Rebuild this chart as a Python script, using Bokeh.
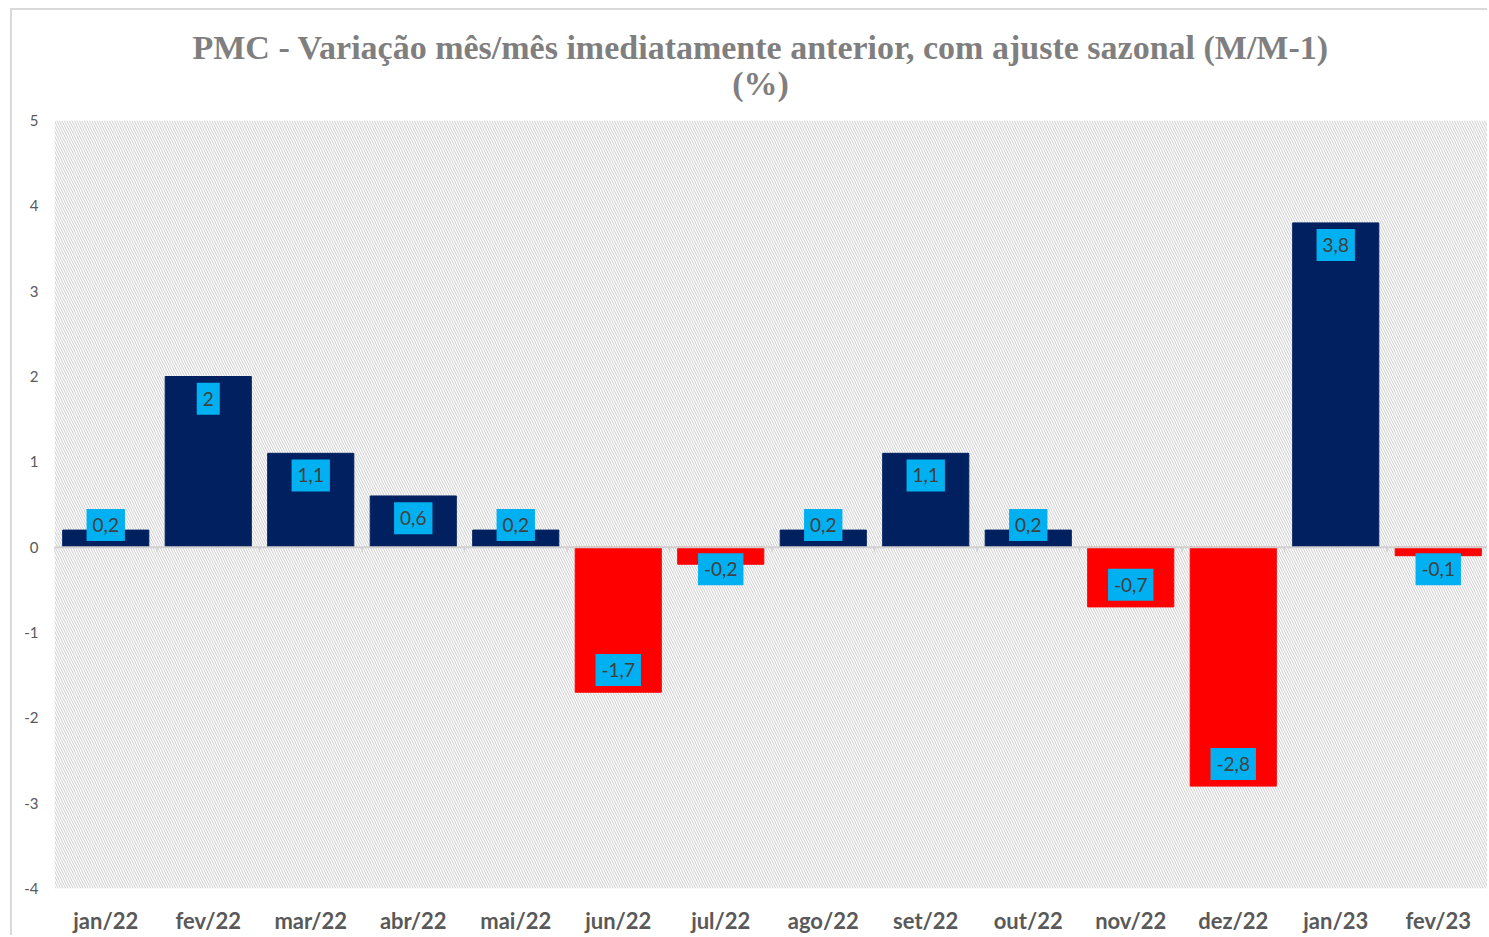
from bokeh.plotting import figure
from bokeh.models import Range1d, FixedTicker, BoxAnnotation, ColumnDataSource, Span
from bokeh.core.properties import value
from bokeh.embed import file_html
from bokeh.resources import INLINE

months = ["jan/22", "fev/22", "mar/22", "abr/22", "mai/22", "jun/22", "jul/22",
          "ago/22", "set/22", "out/22", "nov/22", "dez/22", "jan/23", "fev/23"]
values = [0.2, 2, 1.1, 0.6, 0.2, -1.7, -0.2, 0.2, 1.1, 0.2, -0.7, -2.8, 3.8, -0.1]
y_ticks = [-4, -3, -2, -1, 0, 1, 2, 3, 4, 5]
title_lines = ["PMC - Variação mês/mês imediatamente anterior, com ajuste sazonal (M/M-1)", "(%)"]

POS = "#002060"
NEG = "#ff0000"

xs = list(range(1, len(months) + 1))
colors = [POS if v >= 0 else NEG for v in values]
def fmt(v):
    return ("%g" % v).replace(".", ",")
labels = [fmt(v) for v in values]
off = 0.26
label_y = []
for v in values:
    sgn = 1 if v >= 0 else -1
    label_y.append(v - sgn * off if abs(v) > 0.5 else sgn * off)

src = ColumnDataSource(dict(x=xs, top=values, color=colors, ly=label_y, lab=labels))

p = figure(width=1477, height=927, output_backend="svg", toolbar_location=None,
           x_range=Range1d(0.5, 14.5), y_range=Range1d(-4, 5))
p.min_border_left = 42
p.min_border_right = 0
p.min_border_bottom = 49
p.outline_line_color = None
p.background_fill_color = "white"
p.border_fill_color = "white"

t = p.title
t.text = "\n".join(title_lines)
t.text_font = "Liberation Serif"
t.text_font_size = "34px"
t.text_font_style = "bold"
t.text_color = "#7f7f7f"
t.text_line_height = 0.95
t.align = "left"
t.offset = 138
t.vertical_align = "middle"
t.standoff = 36
if "text_align" in t.properties():
    t.text_align = "center"

hatch = BoxAnnotation(fill_color="white", fill_alpha=1.0, line_color=None,
                      hatch_pattern="left_diagonal_line", hatch_color="#cccccc",
                      hatch_scale=5, hatch_weight=1, level="underlay")
p.add_layout(hatch)

p.xgrid.grid_line_color = None
p.ygrid.grid_line_color = "#d9d9d9"
p.ygrid.grid_line_width = 1
p.ygrid.level = "underlay"
p.ygrid.ticker = FixedTicker(ticks=y_ticks)

p.vbar(x="x", top="top", bottom=0, width=0.84, color="color", source=src)

zero = Span(location=0, dimension="width", line_color="#d0d0d0", line_width=2)
p.add_layout(zero)
bx = [x + 0.5 for x in xs[:-1]] + [0.5]
p.segment(x0=bx, x1=bx, y0=[0] * len(bx), y1=[-0.06] * len(bx), line_color="#d0d0d0", line_width=1.5)

p.text(x="x", y="ly", text="lab", source=src, text_align="center", text_baseline="middle",
       text_font=value("Lato"), text_font_size="19px", text_color="#404040",
       background_fill_color="#00b0f0", padding=(6, 9))

p.xaxis.ticker = FixedTicker(ticks=xs)
p.xaxis.major_label_overrides = {x: m for x, m in zip(xs, months)}
p.xaxis.axis_line_color = None
p.xaxis.major_tick_line_color = None
p.xaxis.minor_tick_line_color = None
p.xaxis.major_label_text_font = "Lato"
p.xaxis.major_label_text_font_style = "bold"
p.xaxis.major_label_text_font_size = "22px"
p.xaxis.major_label_text_color = "#595959"
p.xaxis.major_label_standoff = 12

p.yaxis.ticker = FixedTicker(ticks=y_ticks)
p.yaxis.major_label_overrides = {t: str(t) for t in y_ticks}
p.yaxis.axis_line_color = None
p.yaxis.major_tick_line_color = None
p.yaxis.minor_tick_line_color = None
p.yaxis.major_tick_out = 0
p.yaxis.major_tick_in = 0
p.yaxis.major_label_text_font = "Lato"
p.yaxis.major_label_text_font_size = "15px"
p.yaxis.major_label_text_color = "#595959"
p.yaxis.major_label_standoff = 16

p.styles = {"margin-left": "10px", "margin-top": "8px",
            "border-left": "2px solid #d9d9d9", "border-top": "2px solid #d9d9d9"}

open("out.html", "w").write(file_html(p, INLINE))
